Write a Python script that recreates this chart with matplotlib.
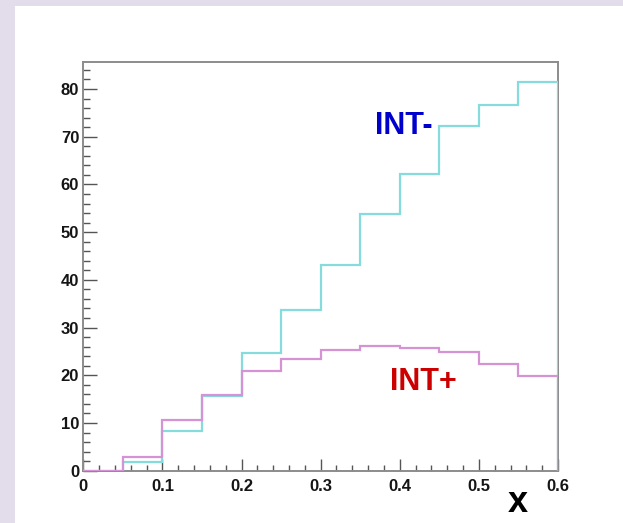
import numpy as np
import matplotlib
matplotlib.use("Agg")
import matplotlib.pyplot as plt
from matplotlib.ticker import MultipleLocator
from matplotlib.patches import Rectangle

# Histogram binning and contents
bin_edges = [0.00, 0.05, 0.10, 0.15, 0.20, 0.25, 0.30, 0.35, 0.40, 0.45, 0.50, 0.55, 0.60]
int_minus = [0.0, 1.75, 8.4, 15.7, 24.6, 33.7, 43.1, 53.7, 62.1, 72.2, 76.6, 81.4]
int_plus = [0.0, 2.9, 10.6, 15.9, 20.9, 23.4, 25.3, 26.1, 25.7, 24.9, 22.3, 19.9]

x_ticks = [0, 0.1, 0.2, 0.3, 0.4, 0.5, 0.6]
x_tick_labels = ["0", "0.1", "0.2", "0.3", "0.4", "0.5", "0.6"]
y_ticks = [0, 10, 20, 30, 40, 50, 60, 70, 80]
y_tick_labels = ["0", "10", "20", "30", "40", "50", "60", "70", "80"]

W, H = 623, 523
fig = plt.figure(figsize=(W / 100, H / 100), dpi=100)
fig.patch.set_facecolor("#e3ddeb")

# white canvas pad
fig.add_artist(Rectangle((15 / W, 0), 1, 1 - 6 / H, transform=fig.transFigure,
                         facecolor="white", edgecolor="none", zorder=0))

left, right, top, bottom = 83.3, 558, 62.3, 470.7
ax = fig.add_axes([left / W, (H - bottom) / H, (right - left) / W, (bottom - top) / H])
ax.set_facecolor("white")

edges = np.array(bin_edges)
ax.stairs(int_minus, edges, color="#86dcdc", linewidth=1.6, zorder=3)
ax.stairs(int_plus, edges, color="#d592d5", linewidth=1.6, zorder=4)

ax.set_xlim(0, 0.6)
ax.set_ylim(0, 85.6)

frame_col = "#8c8c8c"
for s in ax.spines.values():
    s.set_color(frame_col)
    s.set_linewidth(1.4)

ax.set_xticks(x_ticks)
ax.set_xticklabels(x_tick_labels)
ax.set_yticks(y_ticks)
ax.set_yticklabels(y_tick_labels)
ax.xaxis.set_minor_locator(MultipleLocator(0.02))
ax.yaxis.set_minor_locator(MultipleLocator(2))

ax.tick_params(axis="x", which="major", direction="in", length=9, width=1.0,
               color="#555555", pad=6)
ax.tick_params(axis="x", which="minor", direction="in", length=4.5, width=1.0,
               color="#555555")
ax.tick_params(axis="y", which="major", direction="in", length=10, width=1.0,
               color="#555555", pad=3)
ax.tick_params(axis="y", which="minor", direction="in", length=5, width=1.0,
               color="#555555")

for lab in ax.get_xticklabels() + ax.get_yticklabels():
    lab.set_fontfamily("Liberation Sans")
    lab.set_fontweight("bold")
    lab.set_fontsize(12)
    lab.set_color("#151515")

ax.text(0.405, 72.2, "INT-", color="#0000cc", fontsize=22, fontweight="bold",
        family="Liberation Sans", ha="center", va="center")
ax.text(0.4295, 18.6, "INT+", color="#cc0000", fontsize=22, fontweight="bold",
        family="Liberation Sans", ha="center", va="center")

fig.text(518 / W, 1 - 502 / H, "x", fontsize=26, fontweight="bold",
         family="Liberation Sans", ha="center", va="center", color="black")

fig.savefig("out.png", dpi=100, facecolor=fig.get_facecolor())
